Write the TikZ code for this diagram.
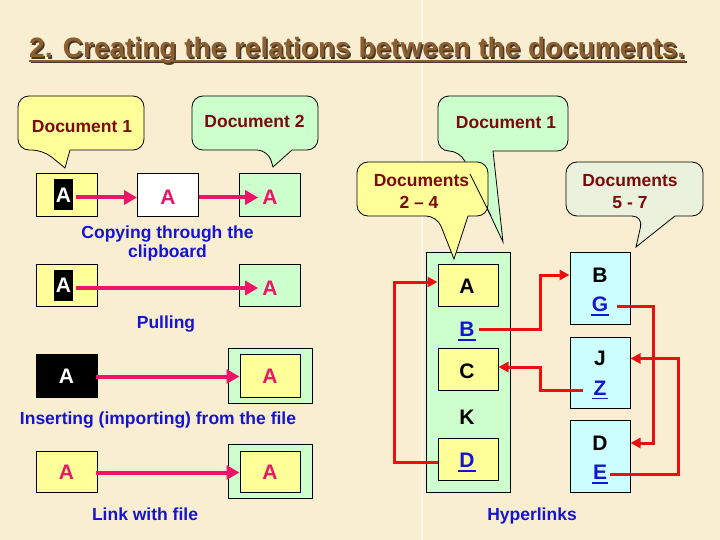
\documentclass[tikz,border=0pt]{standalone}
\usepackage{fontspec}
\setmainfont{Liberation Sans}
\usetikzlibrary{arrows.meta,calc}
\definecolor{bgc}{RGB}{250,238,210}
\definecolor{titlec}{RGB}{140,95,48}
\definecolor{shadowc}{RGB}{70,55,40}
\definecolor{docred}{RGB}{125,10,10}
\definecolor{lblue}{RGB}{20,20,210}
\definecolor{pinkc}{RGB}{240,20,105}
\definecolor{redc}{RGB}{235,15,15}
\definecolor{yel}{RGB}{255,255,153}
\definecolor{grn}{RGB}{204,255,204}
\definecolor{cyn}{RGB}{204,255,255}
\definecolor{pale}{RGB}{234,242,222}
\newcommand{\mybubble}[9]{%
  \draw[bubbleline,fill=#1] (#8,#9) -- (#7,#5) [rounded corners=11pt] -- (#4,#5) -- (#4,#3) -- (#2,#3) -- (#2,#5) -- (#6,#5) [sharp corners] -- cycle;}
\begin{document}
\begin{tikzpicture}[x=1pt,y=-1pt,
  box/.style={draw=black,line width=1pt,minimum width=61pt,minimum height=42pt,inner sep=0pt},
  ibox/.style={draw=black,line width=1pt,minimum width=60pt,minimum height=43pt,inner sep=0pt,fill=yel},
  obox/.style={draw=black,line width=1pt,minimum width=84pt,minimum height=55pt,inner sep=0pt,fill=grn},
  bigA/.style={font=\fontsize{21}{21}\selectfont\bfseries,inner sep=0pt},
  pinkA/.style={bigA,text=pinkc,inner sep=4pt},
  blkA/.style={bigA,fill=black,text=white,minimum width=19pt,minimum height=31pt},
  lnk/.style={bigA,text=lblue},
  lbl/.style={text=lblue,font=\fontsize{17.5}{20}\selectfont\bfseries,anchor=base,inner sep=0pt},
  doclbl/.style={text=docred,font=\fontsize{17.5}{23}\selectfont\bfseries,anchor=base,inner sep=0pt},
  pinkarrow/.style={draw=pinkc,line width=4pt,-{Triangle[length=13pt,width=14pt]}},
  redarrow/.style={draw=redc,line width=3pt,-{Triangle[length=10pt,width=10pt]}},
  bubbleline/.style={draw=black,line width=0.8pt},
  ulin/.style={draw=lblue,line width=1.5pt}]
\useasboundingbox (0,0) rectangle (720,540);
\fill[bgc] (0,0) rectangle (720,540);
\draw[white,opacity=0.6,line width=1.5pt] (422,0) -- (422,540);

% title
\node[anchor=base west,inner sep=0pt,text=shadowc,font=\fontsize{28}{28}\selectfont\bfseries] (titleshadow) at (30.5,59.5) {2. Creating the relations between the documents.};
\draw[shadowc,line width=2pt] ([yshift=-3pt]titleshadow.base west) -- ([yshift=-3pt]titleshadow.base east);
\node[anchor=base west,inner sep=0pt,text=titlec,font=\fontsize{28}{28}\selectfont\bfseries] (title) at (29,58) {2. Creating the relations between the documents.};
\draw[titlec,line width=2pt] ([yshift=-3pt]title.base west) -- ([yshift=-3pt]title.base east);

% ---------- left: row 1
\node[box,fill=yel,minimum height=43pt] (a1) at (66.5,195.5) {};
\node[blkA] (k1) at (63.5,195) {A};
\node[box,fill=white,minimum height=43pt] (b1) at (168,195.5) {};
\node[pinkA] (b1t) at (168,197.5) {A};
\node[box,fill=grn,minimum height=43pt] (c1l) at (270,195.5) {};
\node[pinkA] (c1t) at (270,197.5) {A};
\draw[pinkarrow] ([xshift=3pt]k1.east |- b1t) -- (b1.west |- b1t);
\draw[pinkarrow] (b1.east |- c1t) -- (c1t.west);
\node[lbl] (cop1) at (167.5,238) {Copying through the};
\node[lbl] (cop2) at (167.5,258) {clipboard};

% row 2
\node[box,fill=yel] (a2) at (66.5,285) {};
\node[blkA] (k2) at (63.5,285.5) {A};
\node[box,fill=grn] (c2l) at (270,285) {};
\node[pinkA] (c2t) at (270,288) {A};
\draw[pinkarrow] ([xshift=3pt]k2.east |- c2t) -- (c2t.west);
\node[lbl] (pull) at (166,328) {Pulling};

% row 3
\node[box,fill=black,minimum height=43pt] (a3) at (66.5,375.5) {};
\node[bigA,text=white] (a3t) at (66.5,376.5) {A};
\node[obox] (o3) at (270,375.5) {};
\node[ibox] (i3) at (270,375.5) {};
\node[pinkA] (i3t) at (270,376.5) {A};
\draw[pinkarrow] ([xshift=-2pt]a3.east |- i3t) -- (i3.west |- i3t);
\node[lbl] (ins) at (158,424) {Inserting (importing) from the file};

% row 4
\node[box,fill=yel,minimum height=41pt] (a4) at (66.5,471.5) {};
\node[pinkA] (a4t) at (66.5,472.5) {A};
\node[obox,minimum height=54pt] (o4) at (270,471) {};
\node[ibox,minimum height=41pt] (i4) at (270,471.5) {};
\node[pinkA] (i4t) at (270,472.5) {A};
\draw[pinkarrow] ([xshift=-2pt]a4.east |- i4t) -- (i4.west |- i4t);
\node[lbl] (lnkf) at (145,520) {Link with file};

% ---------- right
\node[draw=black,line width=1pt,fill=grn,minimum width=84pt,minimum height=240pt,inner sep=0pt] (gK) at (468,372) {};
\node[ibox,minimum height=42pt] (aY) at (468,285) {};
\node[ibox,minimum height=42pt] (cY) at (468,369) {};
\node[ibox,minimum height=42pt] (dY) at (468,459) {};
\node[bigA] (lA) at (467,286.5) {A};
\node[lnk] (lBl) at (467,329.5) {B};
\node[bigA] (lC) at (467,371) {C};
\node[bigA] (lK) at (467,417) {K};
\node[lnk] (lDl) at (467,460.5) {D};

\node[draw=black,line width=1pt,fill=cyn,minimum width=60pt,minimum height=72pt,inner sep=0pt] (c1) at (600,288) {};
\node[draw=black,line width=1pt,fill=cyn,minimum width=60pt,minimum height=71pt,inner sep=0pt] (c2) at (600,372.5) {};
\node[draw=black,line width=1pt,fill=cyn,minimum width=60pt,minimum height=72pt,inner sep=0pt] (c3) at (600,456) {};
\node[bigA] (lB1) at (600,275) {B};
\node[lnk] (lG) at (600,304.5) {G};
\node[bigA] (lJ) at (600,358.5) {J};
\node[lnk] (lZ) at (600,388) {Z};
\node[bigA] (lD2) at (600,443) {D};
\node[lnk] (lE) at (600,472.5) {E};

\foreach \n in {lBl,lDl,lG,lZ,lE}{
  \draw[ulin] ([xshift=-1pt,yshift=-3pt]\n.south west) -- ([xshift=1pt,yshift=-3pt]\n.south east);
}

\draw[redarrow] ([yshift=-3pt]dY.west) -- ++(-43,0) |- ([yshift=3pt]aY.west);
\draw[redarrow] ([xshift=4pt]lBl.east) -- ++(62,0) |- (lB1 -| c1.west);
\draw[redarrow] ([xshift=-10pt,yshift=-2pt]lZ.west) -- ++(-43,0) |- ([yshift=2pt]cY.east);
\draw[redarrow] ([xshift=9pt,yshift=-1.5pt]lG.east) -- ++(36.5,0) |- (lD2 -| c3.east);
\draw[redarrow] ([xshift=3pt,yshift=-1.5pt]lE.east) -- ++(68,0) |- (lJ -| c2.east);

\node[lbl] (hyp) at (532,520) {Hyperlinks};

% ---------- bubbles
\mybubble{yel}{18}{96}{144}{150}{43}{70}{65}{168}
\node[doclbl] (d1) at (82,133) {Document 1};
\mybubble{grn}{192}{96}{318}{150}{268}{292}{273}{167}
\node[doclbl] (d2) at (254.5,128) {Document 2};
\mybubble{grn}{438}{96}{568}{151}{460}{493}{503}{242}
\node[doclbl] (d1r) at (506,129) {Document 1};
\mybubble{yel}{357}{162}{488}{216}{437}{468}{454}{259}
\draw[bubbleline] (470,174) -- (491,216);
\node[doclbl] (d24a) at (421.5,187) {Documents};
\node[doclbl] (d24b) at (419,208) {2 – 4};
\mybubble{pale}{566}{162}{703}{216}{643}{675}{636}{247}
\node[doclbl] (d57a) at (630,187) {Documents};
\node[doclbl] (d57b) at (630,208) {5 - 7};
\end{tikzpicture}
\end{document}
